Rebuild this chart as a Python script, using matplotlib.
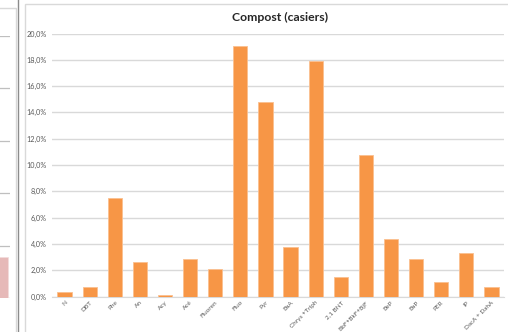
import matplotlib.pyplot as plt
from matplotlib.patches import Rectangle
from matplotlib.lines import Line2D
from matplotlib.ticker import FuncFormatter

# main chart data (fractions)
categories = ['N', 'DBT', 'Phe', 'An', 'Acy', 'Acé', 'Fluoren', 'Fluo', 'Pyr', 'BaA',
              'Chrys +Triph', '2,1 BNT', 'BbF+BkF+BjF', 'BeP', 'BaP', 'PER', 'IP',
              'DacA + DahA']
values = [0.0032, 0.0070, 0.0747, 0.0262, 0.0010, 0.0287, 0.0211, 0.1905, 0.1481,
          0.0374, 0.1788, 0.0151, 0.1074, 0.0437, 0.0283, 0.0108, 0.0331, 0.0072]
yticks = [0.0, 0.02, 0.04, 0.06, 0.08, 0.10, 0.12, 0.14, 0.16, 0.18, 0.20]

# neighbouring chart, only its right edge is visible
side_values = [0.79]
side_ticks = [0, 1, 2, 3, 4, 5]

W, H = 508, 332
fig = plt.figure(figsize=(W / 100, H / 100), dpi=100)
fig.patch.set_facecolor('white')

# frame of the main chart and separator
fig.add_artist(Rectangle((25 / W, -0.05), 1.0, (H - 4) / H + 0.05, transform=fig.transFigure,
                         fill=False, edgecolor='#D9D9D9', lw=1))
fig.add_artist(Line2D([18 / W, 18 / W], [0, 1], transform=fig.transFigure,
                      color='#8C8C8C', lw=1))
fig.add_artist(Line2D([0, 16 / W, 16 / W], [1 - 8 / H, 1 - 8 / H, 0], transform=fig.transFigure,
                      color='#D9D9D9', lw=1))

# left partial chart
axs = fig.add_axes([-6 / W, (H - 298) / H, 16 / W, (298 - 36) / H])
axs.bar([0.5], side_values, width=0.7, color='#E6B9B8', edgecolor='#F2DCDB', lw=0.5)
axs.set_xlim(0, 1)
axs.set_ylim(side_ticks[0], side_ticks[-1])
for t in side_ticks:
    axs.axhline(t, color='#BFBFBF', lw=0.9, zorder=0)
axs.axis('off')

# main chart
ax = fig.add_axes([52 / W, (H - 296.5) / H, (504 - 52) / W, 263 / H])
x = list(range(len(categories)))
ax.bar(x, values, width=0.57, color='#F79646', edgecolor='#FAC090', lw=0.6, zorder=3)
ax.set_xlim(-0.5, len(categories) - 0.5)
ax.set_ylim(0, 0.2)
ax.set_yticks(yticks)
ax.yaxis.set_major_formatter(FuncFormatter(lambda v, p: f'{v * 100:.1f}%'.replace('.', ',')))
ax.grid(axis='y', color='#D9D9D9', lw=1, zorder=0)
ax.set_xticks(x)
ax.set_xticklabels(categories, rotation=45, ha='right', rotation_mode='anchor')
ax.tick_params(axis='both', length=0, labelcolor='#595959')
ax.tick_params(axis='y', pad=4, labelsize=5.2)
ax.tick_params(axis='x', pad=2.5, labelsize=4.6)
for s in ['top', 'right', 'left']:
    ax.spines[s].set_visible(False)
ax.spines['bottom'].set_color('#D9D9D9')
for lab in ax.get_xticklabels() + ax.get_yticklabels():
    lab.set_family('Lato')

fig.text(280 / W, 1 - 17 / H, 'Compost (casiers)', ha='center', va='center',
         fontsize=8.8, fontweight='bold', family='Lato', color='#262626')

fig.savefig('out.png', dpi=100)
